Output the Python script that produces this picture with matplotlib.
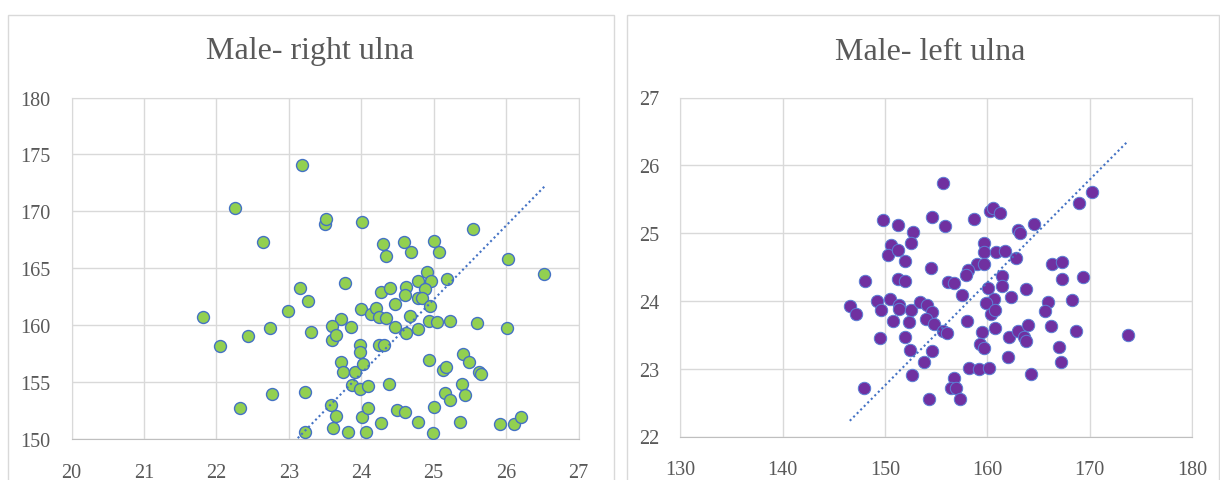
import matplotlib.pyplot as plt
from matplotlib.patches import Rectangle
import numpy as np

# Male - right ulna: x = ulna length, y = stature
right_ulna = [23.18, 22.26, 23.50, 23.51, 24.01, 22.65, 24.30, 24.59, 24.69, 25.01,
              25.07, 24.34, 25.55, 26.03, 26.53, 24.91, 24.78, 24.96, 25.18, 23.78,
              23.16, 23.26, 24.27, 24.40, 24.62, 24.60, 24.88, 24.78, 24.84, 24.46,
              24.95, 24.00, 24.14, 24.21, 24.24, 24.34, 22.99, 21.81, 23.72, 23.60,
              23.86, 22.74, 23.30, 24.46, 24.67, 24.62, 24.78, 24.93, 25.05, 25.22,
              25.60, 26.01, 22.44, 22.05, 23.60, 23.65, 23.98, 23.98, 24.24, 24.32,
              23.72, 23.75, 23.91, 24.03, 24.93, 25.13, 25.17, 25.41, 25.49, 25.62,
              25.66, 23.87, 23.99, 24.10, 24.38, 22.77, 23.23, 25.39, 25.15, 25.23,
              25.43, 22.32, 23.58, 23.65, 24.01, 24.10, 24.49, 24.61, 25.01, 23.61,
              23.82, 24.06, 24.27, 24.79, 24.99, 25.36, 25.92, 26.11, 26.20, 23.22]
right_height = [174.03, 170.25, 168.85, 169.37, 169.08, 167.30, 167.09, 167.30, 166.42, 167.38,
                166.42, 166.04, 168.41, 165.77, 164.46, 164.66, 163.90, 163.90, 164.02, 163.70,
                163.23, 162.15, 162.91, 163.23, 163.32, 162.61, 163.14, 162.35, 162.35, 161.82,
                161.65, 161.38, 160.97, 161.50, 160.71, 160.62, 161.24, 160.71, 160.51, 159.95,
                159.86, 159.75, 159.39, 159.83, 160.83, 159.31, 159.63, 160.39, 160.30, 160.39,
                160.16, 159.75, 159.04, 158.19, 158.72, 159.10, 158.22, 157.67, 158.28, 158.28,
                156.76, 155.88, 155.88, 156.56, 156.97, 156.09, 156.32, 157.43, 156.76, 155.88,
                155.74, 154.71, 154.36, 154.65, 154.80, 153.98, 154.13, 154.86, 154.04, 153.45,
                153.83, 152.72, 152.96, 152.02, 151.93, 152.69, 152.58, 152.37, 152.84, 150.97,
                150.61, 150.61, 151.40, 151.49, 150.53, 151.49, 151.29, 151.35, 151.93, 150.61]
right_slope = 6.49  # trendline through origin

# Male - left ulna: x = stature, y = ulna length
left_height = [155.68, 149.83, 151.23, 152.74, 154.62, 155.83, 158.66, 160.28, 160.54, 161.22,
               163.03, 163.22, 164.54, 168.95, 170.20, 150.55, 150.32, 151.23, 152.51, 151.95,
               159.64, 159.64, 160.84, 161.71, 162.77, 158.96, 159.71, 158.13, 157.94, 154.51,
               148.02, 151.27, 151.95, 156.17, 156.70, 161.45, 161.45, 166.31, 167.33, 167.25,
               169.33, 163.79, 157.56, 160.09, 160.66, 162.35, 146.55, 147.19, 149.23, 149.61,
               150.51, 151.34, 151.34, 152.55, 153.42, 154.06, 154.62, 159.90, 160.39, 160.77,
               165.90, 165.64, 168.31, 150.81, 152.32, 153.98, 154.74, 158.05, 155.64, 156.02,
               159.52, 160.73, 162.16, 162.99, 163.56, 163.79, 163.97, 166.24, 168.69, 173.78,
               149.46, 151.95, 152.44, 154.62, 159.26, 159.64, 166.99, 162.05, 153.83, 167.22,
               158.20, 159.15, 160.17, 152.66, 164.24, 156.70, 156.43, 156.96, 147.95, 154.28,
               157.30]
left_ulna = [25.74, 25.19, 25.12, 25.02, 25.24, 25.10, 25.21, 25.33, 25.37, 25.29,
             25.04, 25.00, 25.13, 25.44, 25.60, 24.83, 24.68, 24.75, 24.85, 24.59,
             24.85, 24.72, 24.72, 24.73, 24.63, 24.55, 24.54, 24.46, 24.38, 24.48,
             24.30, 24.33, 24.30, 24.28, 24.26, 24.37, 24.22, 24.54, 24.57, 24.32,
             24.35, 24.17, 24.08, 24.19, 24.03, 24.06, 23.93, 23.81, 24.00, 23.87,
             24.03, 23.94, 23.88, 23.86, 23.98, 23.94, 23.83, 23.97, 23.81, 23.86,
             23.99, 23.85, 24.02, 23.71, 23.69, 23.73, 23.66, 23.71, 23.55, 23.52,
             23.54, 23.60, 23.47, 23.56, 23.47, 23.41, 23.64, 23.63, 23.56, 23.50,
             23.45, 23.47, 23.28, 23.26, 23.37, 23.30, 23.32, 23.17, 23.10, 23.10,
             23.01, 22.99, 23.01, 22.91, 22.92, 22.86, 22.71, 22.71, 22.71, 22.55,
             22.55]
left_slope = 0.1517  # trendline through origin

W, H = 1220, 481
fig = plt.figure(figsize=(W / 100, H / 100), dpi=100)
plt.rcParams['font.family'] = ['Liberation Serif', 'DejaVu Serif']

text_col = '#595959'
grid_col = '#d9d9d9'
trend_col = '#4472C4'

# chart area frames
for x0, x1 in [(8, 614), (627, 1219)]:
    fig.patches.append(Rectangle((x0 / W, -0.1), (x1 - x0) / W, 1.1 - 16 / H,
                                 transform=fig.transFigure, fill=False,
                                 edgecolor=grid_col, lw=1))


def make_axes(px_left, px_right, px_top, px_bottom):
    ax = fig.add_axes([px_left / W, 1 - px_bottom / H,
                       (px_right - px_left) / W, (px_bottom - px_top) / H])
    ax.set_axisbelow(True)
    ax.grid(True, color=grid_col, lw=1)
    for s in ['left', 'top', 'right']:
        ax.spines[s].set_color(grid_col)
    ax.spines['bottom'].set_color('#bfbfbf')
    ax.tick_params(length=0, labelsize=14.5, labelcolor=text_col, pad=15)
    ax.tick_params(axis='x', pad=17)
    return ax


ax1 = make_axes(71.5, 578.5, 98.5, 440)
ax1.scatter(right_ulna, right_height, s=74, c='#92D050', edgecolors=trend_col,
            linewidths=1.0, zorder=3)
xs = np.array([min(right_ulna), max(right_ulna)])
ax1.plot(xs, right_slope * xs, color=trend_col, lw=1.5, ls=(0, (1, 1.4)), zorder=4)
ax1.set_xlim(20, 27)
ax1.set_ylim(150, 180)
ax1.set_xticks(range(20, 28))
ax1.set_yticks(range(150, 181, 5))

ax2 = make_axes(680.5, 1192, 98.5, 437.5)
ax2.scatter(left_height, left_ulna, s=80, c='#7030A0', edgecolors='#5b7fd6',
            linewidths=0.7, zorder=3)
xs = np.array([min(left_height), max(left_height)])
ax2.plot(xs, left_slope * xs, color=trend_col, lw=1.5, ls=(0, (1, 1.4)), zorder=4)
ax2.set_xlim(130, 180)
ax2.set_ylim(22, 27)
ax2.set_xticks(range(130, 181, 10))
ax2.set_yticks(range(22, 28))

fig.text(310 / W, 1 - 52 / H, 'Male- right ulna', ha='center', va='center',
         fontsize=23, color=text_col)
fig.text(930 / W, 1 - 52 / H, 'Male- left ulna', ha='center', va='center',
         fontsize=23, color=text_col)

fig.savefig('out.png', dpi=100)
